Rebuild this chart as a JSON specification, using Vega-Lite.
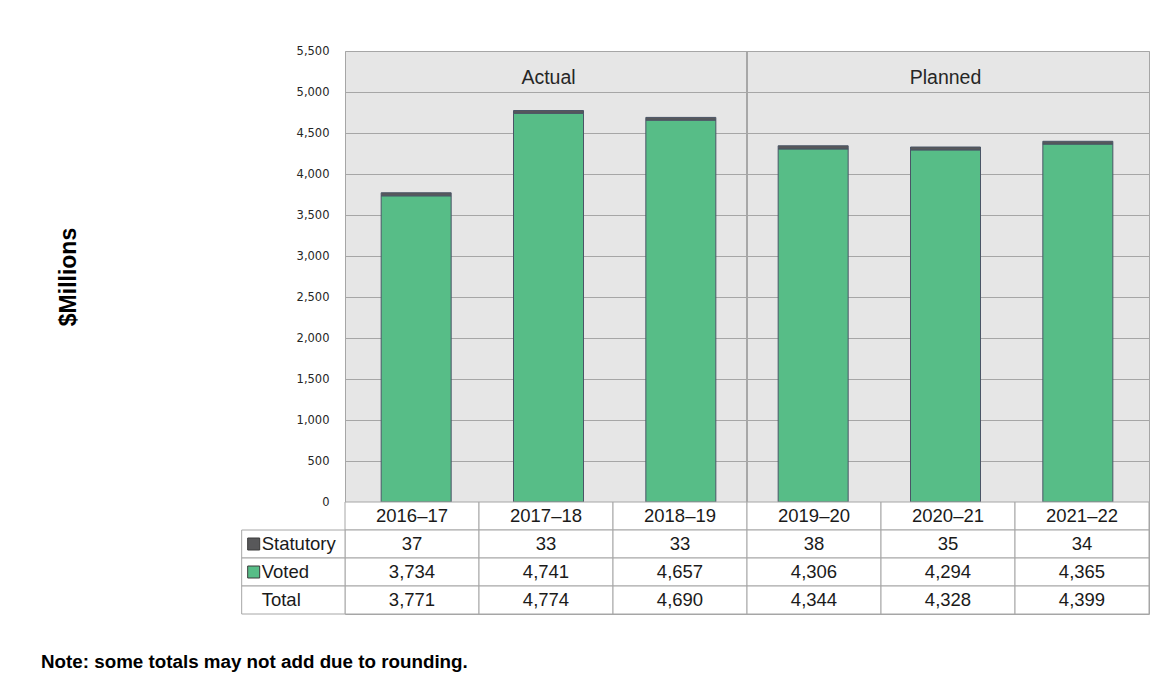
{
  "$schema": "https://vega.github.io/schema/vega-lite/v6.json",
  "background": "white",
  "padding": {"left": 40, "top": 44, "right": 5, "bottom": 5},
  "bounds": "flush",
  "spacing": 0,
  "config": {
    "view": {"stroke": "#a6a6a6", "strokeWidth": 1}
  },
  "datasets": {
    "budget": [
      {"year": "2016–17", "i": 0, "period": "Actual", "Statutory": 37, "Voted": 3734, "Total": 3771},
      {"year": "2017–18", "i": 1, "period": "Actual", "Statutory": 33, "Voted": 4741, "Total": 4774},
      {"year": "2018–19", "i": 2, "period": "Actual", "Statutory": 33, "Voted": 4657, "Total": 4690},
      {"year": "2019–20", "i": 3, "period": "Planned", "Statutory": 38, "Voted": 4306, "Total": 4344},
      {"year": "2020–21", "i": 4, "period": "Planned", "Statutory": 35, "Voted": 4294, "Total": 4328},
      {"year": "2021–22", "i": 5, "period": "Planned", "Statutory": 34, "Voted": 4365, "Total": 4399}
    ],
    "rows": [
      {"row": "Statutory"},
      {"row": "Voted"},
      {"row": "Total"}
    ]
  },
  "vconcat": [
    {
      "width": 804,
      "height": 451,
      "view": {"fill": "#e6e6e6", "stroke": "#a6a6a6"},
      "data": {"name": "budget"},
      "layer": [
        {
          "mark": {"type": "rule", "color": "#a6a6a6", "strokeWidth": 1},
          "encoding": {
            "x": {"datum": 3, "type": "quantitative", "axis": null}
          }
        },
        {
          "transform": [
            {"fold": ["Voted", "Statutory"], "as": ["part", "amount"]},
            {"calculate": "datum.i + 0.5", "as": "xc"}
          ],
          "mark": {"type": "bar", "width": 70, "orient": "vertical", "stroke": "#4a5566", "strokeWidth": 1},
          "encoding": {
            "x": {"field": "xc", "type": "quantitative", "scale": {"domain": [0, 6], "nice": false, "zero": false}, "axis": null},
            "y": {
              "field": "amount", "type": "quantitative", "stack": "zero", "title": "$Millions",
              "scale": {"domain": [0, 5500], "nice": false},
              "axis": {
                "values": [0, 500, 1000, 1500, 2000, 2500, 3000, 3500, 4000, 4500, 5000, 5500],
                "labelExpr": "format(datum.value, ',')",
                "labelFont": "DejaVu Sans", "labelFontSize": 11.5, "labelColor": "#262626",
                "ticks": false, "tickSize": 0, "domain": false, "labelPadding": 16,
                "grid": true, "gridColor": "#a6a6a6", "gridWidth": 1,
                "titleFont": "Liberation Sans", "titleFontSize": 23, "titleFontWeight": "bold",
                "titleColor": "#000000", "titlePadding": 216
              }
            },
            "color": {
              "field": "part", "type": "nominal",
              "scale": {"domain": ["Statutory", "Voted"], "range": ["#58585a", "#57bd87"]},
              "legend": null
            },
            "order": {"field": "part", "sort": "descending"}
          }
        },
        {
          "transform": [{"calculate": "datum.i + 0.5", "as": "xc"}],
          "mark": {"type": "text", "font": "Liberation Sans", "fontSize": 19.5, "color": "#262626", "baseline": "middle"},
          "encoding": {
            "x": {"aggregate": "mean", "field": "xc", "type": "quantitative", "axis": null},
            "y": {"datum": 5170, "type": "quantitative", "title": "$Millions"},
            "text": {"field": "period", "type": "nominal"}
          }
        }
      ]
    },
    {
      "width": 804,
      "height": 112,
      "view": {"stroke": "#a6a6a6", "fill": "white"},
      "title": {
        "text": "Note: some totals may not add due to rounding.",
        "orient": "bottom", "anchor": "start", "frame": "group",
        "dx": -304, "offset": 38,
        "font": "Liberation Sans", "fontSize": 18.8, "fontWeight": "bold", "color": "#000000"
      },
      "layer": [
        {
          "data": {"name": "budget"},
          "transform": [
            {"calculate": "datum.year", "as": "Header"},
            {"fold": ["Header", "Statutory", "Voted", "Total"], "as": ["row", "value"]},
            {"calculate": "isString(datum.value) ? datum.value : format(datum.value, ',')", "as": "label"},
            {"calculate": "datum.i + 1", "as": "i1"},
            {"calculate": "datum.i + 0.5", "as": "im"}
          ],
          "layer": [
            {
              "mark": {"type": "rect", "fill": "white", "stroke": "#a6a6a6", "strokeWidth": 1},
              "encoding": {
                "x": {"field": "i", "type": "quantitative", "scale": {"domain": [0, 6], "nice": false, "zero": false}, "axis": null},
                "x2": {"field": "i1"},
                "y": {"field": "row", "type": "nominal", "scale": {"domain": ["Header", "Statutory", "Voted", "Total"], "paddingInner": 0, "paddingOuter": 0}, "axis": null}
              }
            },
            {
              "mark": {"type": "text", "font": "Liberation Sans", "fontSize": 18.5, "color": "#1a1a1a", "baseline": "middle"},
              "encoding": {
                "x": {"field": "im", "type": "quantitative", "axis": null},
                "y": {"field": "row", "type": "nominal", "axis": null},
                "text": {"field": "label", "type": "nominal"}
              }
            }
          ]
        },
        {
          "data": {"name": "rows"},
          "layer": [
            {
              "mark": {"type": "rect", "fill": "white", "stroke": "#a6a6a6", "strokeWidth": 1},
              "encoding": {
                "x": {"datum": -0.771, "type": "quantitative", "axis": null},
                "x2": {"datum": 0},
                "y": {"field": "row", "type": "nominal", "axis": null}
              }
            },
            {
              "mark": {"type": "text", "align": "left", "dx": 20, "font": "Liberation Sans", "fontSize": 18.5, "color": "#1a1a1a", "baseline": "middle"},
              "encoding": {
                "x": {"datum": -0.771, "type": "quantitative", "axis": null},
                "y": {"field": "row", "type": "nominal", "axis": null},
                "text": {"field": "row", "type": "nominal"}
              }
            },
            {
              "transform": [{"filter": "datum.row !== 'Total'"}],
              "mark": {"type": "point", "shape": "square", "filled": true, "size": 144, "stroke": "#3a3a3a", "strokeWidth": 1, "opacity": 1, "xOffset": 12},
              "encoding": {
                "x": {"datum": -0.771, "type": "quantitative", "axis": null},
                "y": {"field": "row", "type": "nominal", "axis": null},
                "color": {
                  "field": "row", "type": "nominal",
                  "scale": {"domain": ["Statutory", "Voted"], "range": ["#58585a", "#57bd87"]},
                  "legend": null
                }
              }
            }
          ]
        }
      ]
    }
  ]
}
